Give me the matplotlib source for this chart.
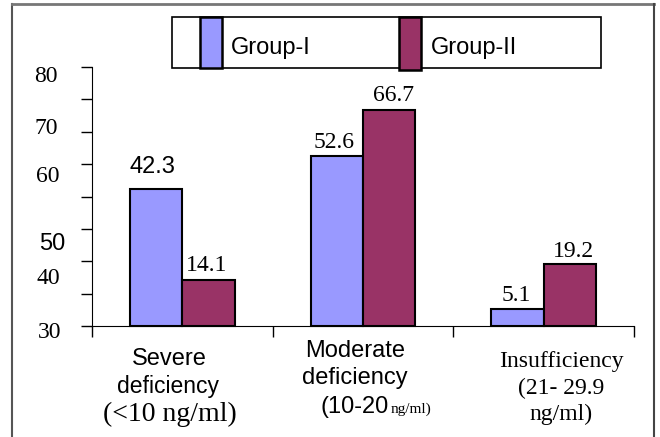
import matplotlib
matplotlib.use("Agg")
import matplotlib.pyplot as plt
from matplotlib.patches import Rectangle
from matplotlib.lines import Line2D
import numpy as np

# data
groups = ["Group-I", "Group-II"]
group_i = [42.3, 52.6, 5.1]
group_ii = [14.1, 66.7, 19.2]
colors = ["#9999FF", "#993366"]
ytick_labels = ["80", "70", "60", "50", "40", "30"]
cat_lines = [
    ["Severe", "deficiency", "(<10 ng/ml)"],
    ["Moderate", "deficiency", "(10-20", "ng/ml)"],
    ["Insufficiency", "(21- 29.9", "ng/ml)"],
]

W, H = 660, 437
SANS = "Liberation Sans"
SERIF = "Liberation Serif"


def px(x, y):
    return x / W, 1 - y / H


fig = plt.figure(figsize=(6.6, 4.37), dpi=100)

# outer frame
fig.add_artist(Line2D([12 / W, 12 / W], [0, 1 - 4 / H], color="#555555", lw=1.5))
fig.add_artist(Line2D([12 / W, 654 / W], [1 - 4 / H, 1 - 4 / H], color="#777777", lw=2))
fig.add_artist(Line2D([654 / W, 654 / W], [0, 1 - 4 / H], color="#444444", lw=1.5))

# axes placed in pixel coords
left, right, bottom, top = 92, 634, 326, 67
ax = fig.add_axes([left / W, 1 - bottom / H, (right - left) / W, (bottom - top) / H])
ax.set_xlim(0, 3)
ax.set_ylim(0, 80)
for s in ["top", "right"]:
    ax.spines[s].set_visible(False)

ax.set_yticks(np.arange(0, 81, 10))
ax.set_yticklabels([])
ax.tick_params(axis="y", direction="out", length=8, width=1)
ax.set_xticks([0, 1, 2, 3])
ax.set_xticklabels([])
ax.tick_params(axis="x", direction="out", length=8, width=1)

w = 0.29
x = np.arange(3) + 0.5
ax.bar(x - w / 2, group_i, w, color=colors[0], edgecolor="black", lw=1.5, clip_on=False)
ax.bar(x + w / 2, group_ii, w, color=colors[1], edgecolor="black", lw=1.5, clip_on=False)

# value labels (first one in sans, rest in serif, as in the original)
gap_i = [(-4, 11), (-3, 3), (-1, 3)]
gap_ii = [(-2, 4), (4, 4), (4, 2)]
for i, v in enumerate(group_i):
    ax.annotate(f"{v}", (x[i] - w / 2, v), xytext=gap_i[i], textcoords="offset pixels",
                ha="center", va="bottom", family=SANS if i == 0 else SERIF, fontsize=17)
for i, v in enumerate(group_ii):
    ax.annotate(f"{v}", (x[i] + w / 2, v), xytext=gap_ii[i], textcoords="offset pixels",
                ha="center", va="bottom", family=SERIF, fontsize=17)

# odd y tick labels, placed where the original has them
ylab_pos = [77, 129, 177, 244, 278, 332]
ylab_x = [46, 46, 48, 52, 48, 50]
for lab, yp, xp in zip(ytick_labels, ylab_pos, ylab_x):
    fam = SANS if lab == "50" else SERIF
    fig.text(*px(xp, yp), lab, ha="center", va="center", family=fam, fontsize=17)

# category labels
fig.text(*px(169, 359), cat_lines[0][0], ha="center", va="center", family=SANS, fontsize=17)
fig.text(*px(168, 386), cat_lines[0][1], ha="center", va="center", family=SANS, fontsize=16.5)
fig.text(*px(170, 414), cat_lines[0][2], ha="center", va="center", family=SERIF, fontsize=20)

fig.text(*px(355, 351), cat_lines[1][0], ha="center", va="center", family=SANS, fontsize=17)
fig.text(*px(355, 378), cat_lines[1][1], ha="center", va="center", family=SANS, fontsize=17)
fig.text(*px(320, 413), cat_lines[1][2], ha="left", va="baseline", family=SANS, fontsize=17)
fig.text(*px(391, 413), cat_lines[1][3], ha="left", va="baseline", family=SERIF, fontsize=11)

fig.text(*px(561, 361), cat_lines[2][0], ha="center", va="center", family=SERIF, fontsize=17)
fig.text(*px(561, 388), cat_lines[2][1], ha="center", va="center", family=SERIF, fontsize=17)
fig.text(*px(561, 414), cat_lines[2][2], ha="center", va="center", family=SERIF, fontsize=17)

# legend box drawn by hand
fig.add_artist(Rectangle(px(172, 68), (601 - 172) / W, (68 - 17) / H,
                         transform=fig.transFigure, fill=False, ec="black", lw=1.2))
fig.add_artist(Rectangle(px(200, 68), 22 / W, (68 - 17) / H, transform=fig.transFigure,
                         fc=colors[0], ec="black", lw=1.8))
fig.add_artist(Rectangle(px(399, 70), 22 / W, (70 - 17) / H, transform=fig.transFigure,
                         fc=colors[1], ec="black", lw=1.8))
fig.text(*px(231, 48), groups[0], ha="left", va="center", family=SANS, fontsize=17)
fig.text(*px(431, 48), groups[1], ha="left", va="center", family=SANS, fontsize=17)

fig.savefig("out.png", dpi=100)
